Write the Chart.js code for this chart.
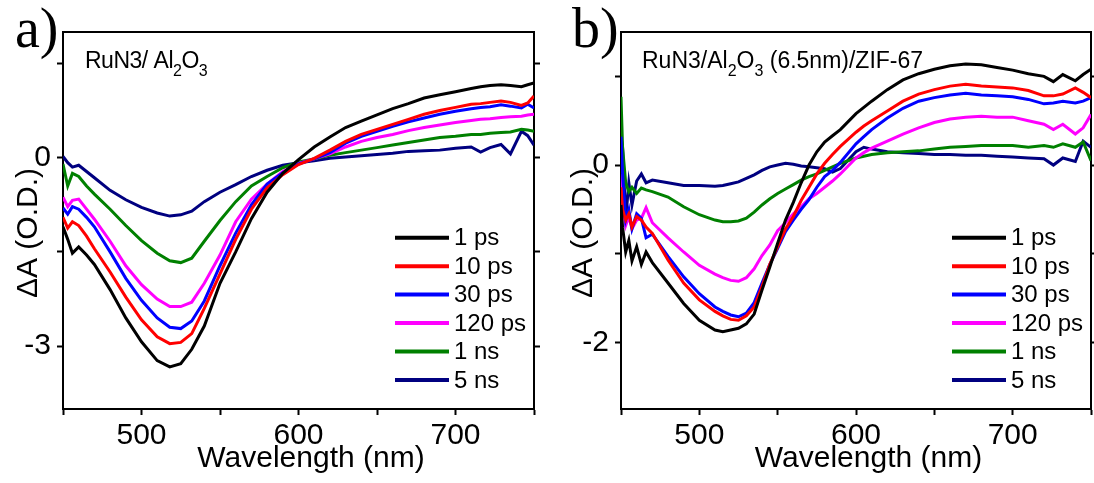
<!DOCTYPE html>
<html>
<head>
<meta charset="utf-8">
<script src="https://cdn.jsdelivr.net/npm/chart.js@4/dist/chart.umd.min.js"></script>
<style>
  html, body { margin: 0; padding: 0; background: #fff; }
  #wrap { position: relative; width: 1094px; height: 483px; }
  .panel { position: absolute; top: 0; width: 547px; height: 483px; }
</style>
</head>
<body>
<div id="wrap">
  <div class="panel" style="left:0"><canvas id="chartA"></canvas></div>
  <div class="panel" style="left:547px"><canvas id="chartB"></canvas></div>
</div>
<script>
// ---- data ----
const seriesLabels = ['1 ps', '10 ps', '30 ps', '120 ps', '1 ns', '5 ns'];
const seriesColors = ['#000000', '#ff0000', '#0000ff', '#ff00ff', '#008000', '#000080'];

const xTicks = [450, 500, 550, 600, 650, 700, 750];
const xTickLabels = [500, 600, 700];

// panel a) RuN3/Al2O3
const waveA = [450, 453, 456, 460, 465, 470, 480, 490, 500, 510, 518, 525, 532, 540, 550, 560, 570, 580, 590, 600,
  610, 620, 630, 640, 650, 660, 670, 680, 690, 700, 710, 716, 722, 729, 735, 742, 746, 750];
const a1ps = [-1.1, -1.3, -1.52, -1.42, -1.55, -1.7, -2.1, -2.55, -2.93, -3.23, -3.33, -3.28, -3.05, -2.68, -2.0, -1.5, -0.97, -0.55, -0.25, -0.03,
  0.17, 0.33, 0.48, 0.58, 0.68, 0.78, 0.86, 0.95, 1.0, 1.05, 1.1, 1.13, 1.15, 1.16, 1.15, 1.13, 1.16, 1.19];
const a10ps = [-0.95, -1.12, -1.02, -1.08, -1.25, -1.45, -1.82, -2.22, -2.58, -2.85, -2.96, -2.94, -2.8, -2.4, -1.85, -1.3, -0.82, -0.48, -0.27, -0.11,
  -0.01, 0.12, 0.26, 0.37, 0.45, 0.53, 0.61, 0.69, 0.75, 0.8, 0.85, 0.86, 0.88, 0.9, 0.88, 0.83, 0.87, 0.98];
const a30ps = [-0.8, -0.9, -0.78, -0.82, -0.95, -1.1, -1.5, -1.92, -2.27, -2.55, -2.7, -2.72, -2.6, -2.28, -1.72, -1.2, -0.75, -0.42, -0.24, -0.1,
  -0.02, 0.08, 0.23, 0.34, 0.42, 0.5, 0.57, 0.63, 0.69, 0.74, 0.78, 0.8, 0.81, 0.84, 0.82, 0.79, 0.85, 0.79];
const a120ps = [-0.63, -0.78, -0.68, -0.66, -0.82, -0.98, -1.33, -1.72, -2.02, -2.25, -2.37, -2.37, -2.3, -2.0, -1.55, -1.02, -0.66, -0.42, -0.22, -0.09,
  -0.02, 0.06, 0.17, 0.26, 0.32, 0.37, 0.43, 0.48, 0.52, 0.56, 0.59, 0.61, 0.62, 0.64, 0.65, 0.66, 0.68, 0.69];
const a1ns = [-0.1, -0.45, -0.25, -0.3, -0.45, -0.58, -0.82, -1.08, -1.32, -1.52, -1.64, -1.67, -1.6, -1.33, -1.0, -0.7, -0.45, -0.3, -0.16, -0.07,
  -0.02, 0.04, 0.08, 0.12, 0.16, 0.2, 0.24, 0.28, 0.32, 0.34, 0.37, 0.37, 0.39, 0.4, 0.41, 0.45, 0.44, 0.42];
const a5ns = [0.02, -0.08, -0.15, -0.12, -0.22, -0.32, -0.52, -0.67, -0.79, -0.88, -0.93, -0.91, -0.85, -0.7, -0.55, -0.43, -0.3, -0.2, -0.12, -0.08,
  -0.05, -0.01, 0.01, 0.03, 0.05, 0.07, 0.1, 0.11, 0.12, 0.15, 0.17, 0.09, 0.16, 0.21, 0.06, 0.42, 0.35, 0.2];
const yTicksA = [-3, -1.5, 0, 1.5];
const yTickLabelsA = [-3, 0];

// panel b) RuN3/Al2O3 (6.5nm)/ZIF-67
const waveB = [450, 451, 453, 455, 457, 460, 463, 466, 470, 480, 490, 500, 510, 515, 520, 525, 530, 535, 540, 545,
  550, 555, 560, 565, 570, 575, 580, 585, 590, 600, 605, 610, 620, 630, 640, 650, 660, 670, 680, 690,
  700, 710, 720, 726, 732, 740, 745, 750];
const b1ps = [-0.45, -0.7, -0.98, -0.85, -1.08, -0.92, -1.12, -0.98, -1.1, -1.33, -1.56, -1.75, -1.86, -1.88, -1.86, -1.84, -1.79, -1.68, -1.41, -1.15,
  -0.88, -0.62, -0.42, -0.2, 0.0, 0.15, 0.26, 0.33, 0.4, 0.58, 0.65, 0.72, 0.85, 0.96, 1.03, 1.08, 1.12, 1.14, 1.13, 1.1,
  1.07, 1.03, 1.0, 0.94, 1.02, 0.95, 1.02, 1.08];
const b10ps = [-0.25, -0.5, -0.62, -0.55, -0.7, -0.58, -0.62, -0.7, -0.77, -1.07, -1.33, -1.52, -1.65, -1.7, -1.74, -1.75, -1.7, -1.6, -1.37, -1.12,
  -0.92, -0.72, -0.58, -0.4, -0.25, -0.1, 0.02, 0.12, 0.21, 0.37, 0.44, 0.5, 0.61, 0.72, 0.8, 0.85, 0.89, 0.91, 0.89, 0.88,
  0.87, 0.84, 0.78, 0.78, 0.8, 0.87, 0.82, 0.76];
const b30ps = [0.32, -0.1, -0.62, -0.5, -0.72, -0.55, -0.6, -0.82, -0.78, -1.03, -1.26, -1.45, -1.6, -1.65, -1.69, -1.71, -1.67, -1.55, -1.33, -1.12,
  -0.94, -0.75, -0.62, -0.5, -0.39, -0.25, -0.13, -0.06, 0.03, 0.24, 0.32, 0.4, 0.53, 0.64, 0.72, 0.76, 0.79, 0.81, 0.79, 0.78,
  0.77, 0.74, 0.69, 0.7, 0.72, 0.7, 0.72, 0.76];
const b120ps = [-0.1, -0.45, -0.68, -0.58, -0.72, -0.62, -0.6, -0.48, -0.65, -0.82, -0.98, -1.13, -1.23, -1.27, -1.3, -1.31, -1.27, -1.17, -1.02, -0.9,
  -0.74, -0.65, -0.55, -0.47, -0.38, -0.32, -0.25, -0.18, -0.1, 0.08, 0.14, 0.19, 0.27, 0.35, 0.42, 0.48, 0.52, 0.54, 0.55, 0.54,
  0.54, 0.5, 0.46, 0.4, 0.46, 0.35, 0.42, 0.57];
const b1ns = [0.77, 0.2, -0.2, -0.3, -0.25, -0.32, -0.26, -0.28, -0.3, -0.36, -0.47, -0.56, -0.62, -0.64, -0.64, -0.63, -0.6, -0.53, -0.45, -0.38,
  -0.32, -0.27, -0.22, -0.17, -0.13, -0.1, -0.06, -0.02, 0.02, 0.08, 0.1, 0.12, 0.14, 0.15, 0.16, 0.18, 0.2, 0.21, 0.22, 0.22,
  0.22, 0.2, 0.22, 0.2, 0.24, 0.2, 0.26, 0.05];
const b5ns = [0.32, 0.2, -0.6, -0.2, -0.45, -0.18, -0.1, -0.2, -0.17, -0.2, -0.23, -0.23, -0.24, -0.23, -0.21, -0.19, -0.15, -0.11, -0.06, -0.02,
  0.0, 0.02, 0.01, -0.01, -0.02, -0.03, -0.04, -0.08, -0.04, 0.15, 0.2, 0.18, 0.15, 0.14, 0.13, 0.12, 0.12, 0.11, 0.11, 0.1,
  0.09, 0.08, 0.07, 0.0, 0.08, 0.04, 0.27, 0.2];
const yTicksB = [-2, -1, 0, 1];
const yTickLabelsB = [-2, 0];

const SANS = '"Liberation Sans", Arial, sans-serif';
const NBSP3 = '\u00a0\u00a0\u00a0';

// letter, sample note (with subscripts) and the inset legend
const panelText = {
  id: 'panelText',
  afterDraw(chart, args, opts) {
    const ctx = chart.ctx, area = chart.chartArea;
    ctx.save();
    ctx.fillStyle = '#000';
    ctx.textBaseline = 'alphabetic';
    ctx.font = '56px "Liberation Serif", "Times New Roman", serif';
    ctx.fillText(opts.letter, opts.letterX, 47);

    let x = area.left + opts.noteDx;
    ctx.letterSpacing = opts.noteSpacing;
    opts.note.forEach(([txt, sub]) => {
      ctx.font = (sub ? '16px ' : '23px ') + SANS;
      ctx.fillText(txt, x, sub ? 76 : 68);
      x += ctx.measureText(txt).width;
    });
    ctx.letterSpacing = '0px';

    ctx.font = '24px ' + SANS;
    ctx.textBaseline = 'middle';
    chart.data.datasets.forEach((ds, i) => {
      const y = area.top + 205.7 + i * 28.46;
      ctx.strokeStyle = ds.borderColor;
      ctx.lineWidth = 4;
      ctx.beginPath();
      ctx.moveTo(area.right - 139, y);
      ctx.lineTo(area.right - 85, y);
      ctx.stroke();
      ctx.fillText(ds.label, area.right - 80, y + 1);
    });
    ctx.restore();
  }
};

function makePanel(id, p) {
  const datasets = p.series.map((vals, i) => ({
    label: seriesLabels[i],
    data: p.wave.map((w, j) => ({ x: w, y: vals[j] })),
    borderColor: seriesColors[i],
    borderWidth: 3,
    pointRadius: 0,
    tension: 0,
    fill: false
  }));
  const tickGrid = { drawOnChartArea: false, drawTicks: true, tickLength: 6, tickWidth: 2, tickColor: '#000' };
  const border = { display: true, width: 2, color: '#000' };
  const yTickObjs = p.yTicks.map(v => ({ value: v }));

  return new Chart(document.getElementById(id), {
    type: 'line',
    data: { datasets },
    options: {
      responsive: true,
      maintainAspectRatio: false,
      animation: false,
      devicePixelRatio: 1,
      layout: { padding: 0 },
      plugins: {
        legend: { display: false },
        tooltip: { enabled: false },
        panelText: { letter: p.letter, letterX: p.letterX, note: p.note, noteDx: p.noteDx, noteSpacing: p.noteSpacing }
      },
      scales: {
        x: {
          type: 'linear', position: 'bottom', min: 450, max: 750,
          afterBuildTicks: ax => { ax.ticks = xTicks.map(v => ({ value: v })); },
          afterFit: ax => { ax.height = 74; },
          ticks: {
            autoSkip: false, maxRotation: 0, padding: 3, color: '#000',
            font: { family: SANS, size: 30 },
            callback: v => xTickLabels.includes(v) ? String(v) : ''
          },
          grid: tickGrid, border,
          title: {
            // leading no-break spaces: the figure's title sits a little right of the axis centre
            display: true, text: NBSP3 + 'Wavelength (nm)', color: '#000',
            font: { family: SANS, size: 30, lineHeight: 1.2 },
            padding: { top: 0, bottom: 6 }
          }
        },
        xTop: {
          type: 'linear', position: 'top', min: 450, max: 750,
          afterFit: ax => { ax.height = 32; },
          ticks: { display: false },
          grid: { drawOnChartArea: false, drawTicks: false }, border
        },
        y: {
          type: 'linear', position: 'left', min: p.yMin, max: p.yMax,
          afterBuildTicks: ax => { ax.ticks = yTickObjs.map(t => ({ ...t })); },
          afterFit: ax => { ax.width = p.leftW; },
          ticks: {
            padding: 6, color: '#000',
            font: { family: SANS, size: 30 },
            callback: v => p.yLabels.includes(v) ? String(v) : ''
          },
          grid: tickGrid, border,
          title: {
            // trailing no-break spaces push the label a bit below the axis centre, as in the figure
            display: true, text: '\u0394A (O.D.)' + NBSP3, color: '#000',
            font: { family: SANS, size: 30, lineHeight: 1.2 },
            padding: { top: p.yTitlePad, bottom: 0 }
          }
        },
        yRight: {
          type: 'linear', position: 'right', min: p.yMin, max: p.yMax,
          afterBuildTicks: ax => { ax.ticks = yTickObjs.map(t => ({ ...t })); },
          afterFit: ax => { ax.width = p.rightW; },
          ticks: { padding: 0, callback: () => '' },
          grid: tickGrid, border
        }
      }
    },
    plugins: [panelText]
  });
}

makePanel('chartA', {
  wave: waveA, series: [a1ps, a10ps, a30ps, a120ps, a1ns, a5ns],
  yMin: -4, yMax: 2, yTicks: yTicksA, yLabels: yTickLabelsA,
  leftW: 63, rightW: 13, yTitlePad: 11,
  letter: 'a)', letterX: 15,
  note: [['RuN3/ Al', false], ['2', true], ['O', false], ['3', true]], noteDx: 22, noteSpacing: '-0.5px'
});

makePanel('chartB', {
  wave: waveB, series: [b1ps, b10ps, b30ps, b120ps, b1ns, b5ns],
  yMin: -2.75, yMax: 1.5, yTicks: yTicksB, yLabels: yTickLabelsB,
  leftW: 74, rightW: 2, yTitlePad: 19,
  letter: 'b)', letterX: 25,
  note: [['RuN3/Al', false], ['2', true], ['O', false], ['3', true], [' (6.5nm)/ZIF-67', false]], noteDx: 21, noteSpacing: '0px'
});
</script>
</body>
</html>
